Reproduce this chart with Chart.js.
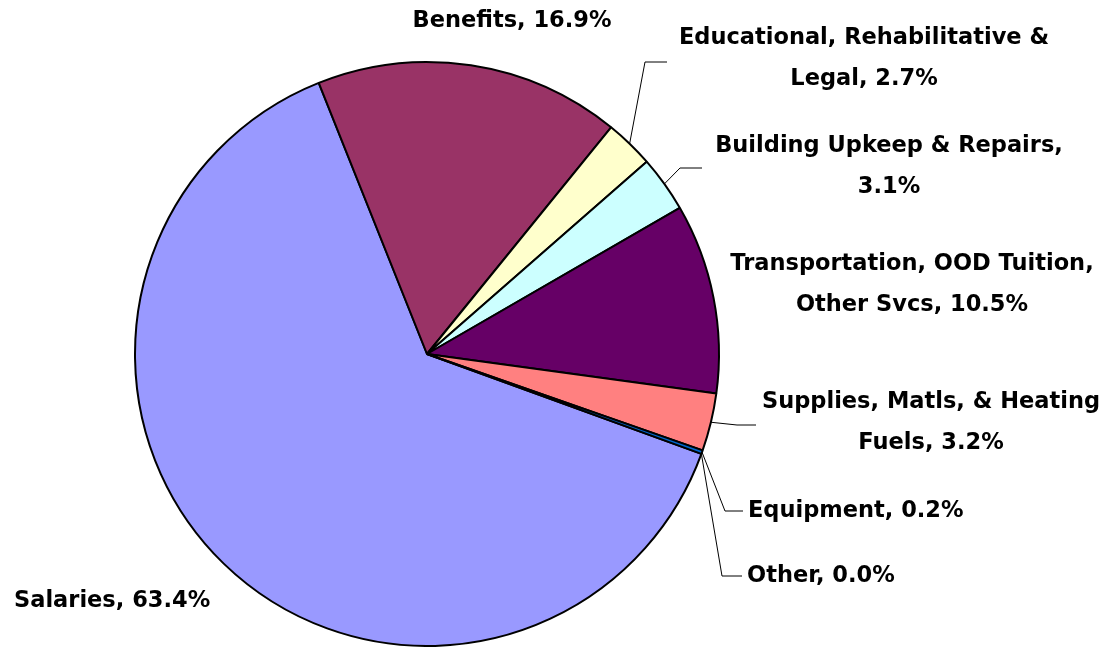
<!DOCTYPE html>
<html>
<head>
<meta charset="utf-8">
<script src="https://cdn.jsdelivr.net/npm/chart.js@4/dist/chart.umd.min.js"></script>
<style>
  html, body { margin: 0; padding: 0; background: #fff; }
  #wrap { width: 1106px; height: 647px; }
</style>
</head>
<body>
<div id="wrap"><canvas id="pie" width="1106" height="647"></canvas></div>
<script>
// data
const categories = [
  'Salaries',
  'Benefits',
  'Educational, Rehabilitative & Legal',
  'Building Upkeep & Repairs',
  'Transportation, OOD Tuition, Other Svcs',
  'Supplies, Matls, & Heating Fuels',
  'Equipment',
  'Other'
];
const shares = [63.4, 16.9, 2.7, 3.1, 10.5, 3.2, 0.2, 0.0];
const colors = ['#9999FF', '#993366', '#FFFFCC', '#CCFFFF', '#660066', '#FF8080', '#0066CC', '#00CCFF'];

// label text lines (as in the picture)
const labelLines = [
  ['Salaries, 63.4%'],
  ['Benefits, 16.9%'],
  ['Educational, Rehabilitative &', 'Legal, 2.7%'],
  ['Building Upkeep & Repairs,', '3.1%'],
  ['Transportation, OOD Tuition,', 'Other Svcs, 10.5%'],
  ['Supplies, Matls, & Heating', 'Fuels, 3.2%'],
  ['Equipment, 0.2%'],
  ['Other, 0.0%']
];

// where each label sits, and the leader elbow/end if there is one
const labelLayout = [
  { x: 14,  y: 601, align: 'left' },
  { x: 512, y: 21,  align: 'center' },
  { x: 864, y: 38,  align: 'center', leader: [[645, 62], [667, 62]] },
  { x: 889, y: 146, align: 'center', leader: [[680, 168], [702, 168]] },
  { x: 912, y: 264, align: 'center' },
  { x: 931, y: 402, align: 'center', leader: [[737, 425], [756, 425]] },
  { x: 748, y: 511, align: 'left', leader: [[725, 511], [743, 511]] },
  { x: 747, y: 576, align: 'left', leader: [[722, 576], [742, 576]] }
];
const lineGap = 41;

const pieLabels = {
  id: 'pieLabels',
  afterDatasetsDraw(chart) {
    const ctx = chart.ctx;
    const arcs = chart.getDatasetMeta(0).data;
    ctx.save();
    // leader lines
    ctx.strokeStyle = '#000';
    ctx.lineWidth = 1;
    arcs.forEach((arc, i) => {
      const lay = labelLayout[i];
      if (!lay.leader) return;
      const p = arc.getProps(['x', 'y', 'startAngle', 'endAngle', 'outerRadius'], true);
      const mid = (p.startAngle + p.endAngle) / 2;
      const ax = p.x + Math.cos(mid) * p.outerRadius;
      const ay = p.y + Math.sin(mid) * p.outerRadius;
      ctx.beginPath();
      ctx.moveTo(ax, ay);
      lay.leader.forEach(pt => ctx.lineTo(pt[0], pt[1]));
      ctx.stroke();
    });
    // texts
    ctx.fillStyle = '#000';
    ctx.font = 'bold 22.5px "DejaVu Sans", sans-serif';
    ctx.textBaseline = 'middle';
    labelLines.forEach((lines, i) => {
      const lay = labelLayout[i];
      ctx.textAlign = lay.align;
      lines.forEach((t, k) => ctx.fillText(t, lay.x, lay.y + k * lineGap));
    });
    ctx.restore();
  }
};

new Chart(document.getElementById('pie').getContext('2d'), {
  type: 'pie',
  data: {
    labels: categories,
    datasets: [{
      data: shares,
      backgroundColor: colors,
      borderColor: '#000',
      borderWidth: 2
    }]
  },
  options: {
    responsive: false,
    animation: false,
    rotation: 110,
    layout: { padding: { left: 134, right: 386, top: 61, bottom: 0 } },
    plugins: {
      legend: { display: false },
      tooltip: { enabled: false }
    }
  },
  plugins: [pieLabels]
});
</script>
</body>
</html>
